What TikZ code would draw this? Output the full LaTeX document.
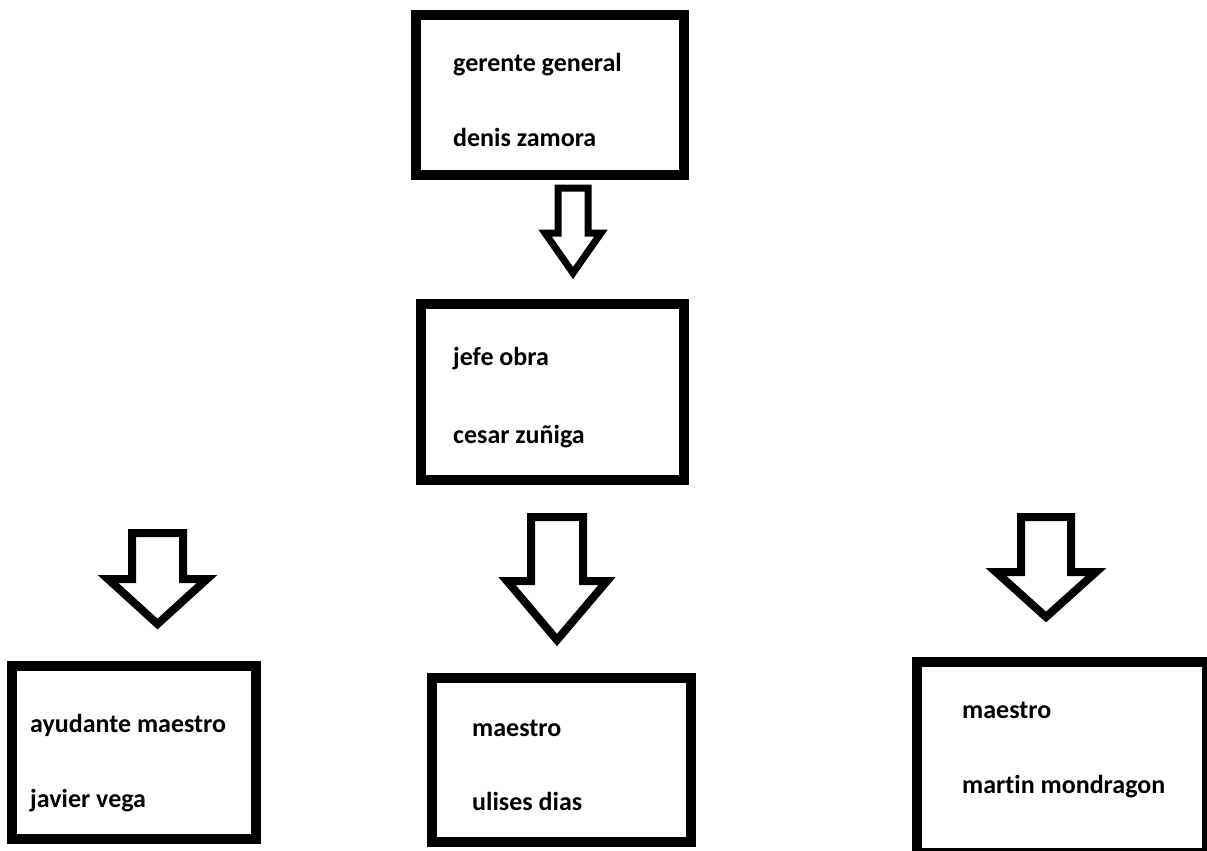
\documentclass[tikz,border=0pt]{standalone}
\usepackage{fontspec}
\setmainfont{Carlito}[RawFeature={-liga}]
\begin{document}
\begin{tikzpicture}[x=1pt,y=-1pt,
  box/.style={draw=black,line width=10pt,rectangle,inner sep=0pt,fill=none},
  lbl/.style={anchor=base west,inner sep=0pt,font=\fontsize{26}{31}\selectfont\bfseries},
  blockarrow/.style={draw=black,line width=8pt,line join=miter,fill=white}]
\useasboundingbox (0,0) rectangle (1207,851);
\clip (0,0) rectangle (1207,851);
% boxes
\node[box,minimum width=268pt,minimum height=160pt] (b1) at (550,95) {};
\node[box,minimum width=263pt,minimum height=176pt] (b2) at (552.5,392) {};
\node[box,minimum width=244pt,minimum height=173pt] (b3) at (134,752.5) {};
\node[box,minimum width=259pt,minimum height=164pt] (b4) at (561.5,760) {};
\node[box,minimum width=290pt,minimum height=191pt] (b5) at (1062,757.5) {};
% texts
\node[lbl] (t1a) at (453,71) {gerente general};
\node[lbl] (t1b) at (453,146) {denis zamora};
\node[lbl] (t2a) at (453,365) {jefe obra};
\node[lbl] (t2b) at (453,443) {cesar zuñiga};
\node[lbl] (t3a) at (30,732) {ayudante maestro};
\node[lbl] (t3b) at (30,807) {javier vega};
\node[lbl] (t4a) at (472,736) {maestro};
\node[lbl] (t4b) at (472,810) {ulises dias};
\node[lbl] (t5a) at (962,718) {maestro};
\node[lbl] (t5b) at (962,793) {martin mondragon};
% block arrows
\draw[blockarrow,line width=7pt] (558,188) -- (588,188) -- (588,233) -- (601,233) -- (573,273) -- (545,233) -- (558,233) -- cycle;
\draw[blockarrow] (132,533) -- (183,533) -- (183,579) -- (207,579) -- (157.5,624) -- (108,579) -- (132,579) -- cycle;
\draw[blockarrow] (531,517) -- (583,517) -- (583,581) -- (607,581) -- (557,640) -- (507,581) -- (531,581) -- cycle;
\draw[blockarrow] (1021,517) -- (1071,517) -- (1071,572) -- (1096,572) -- (1046,617) -- (996,572) -- (1021,572) -- cycle;
\end{tikzpicture}
\end{document}
